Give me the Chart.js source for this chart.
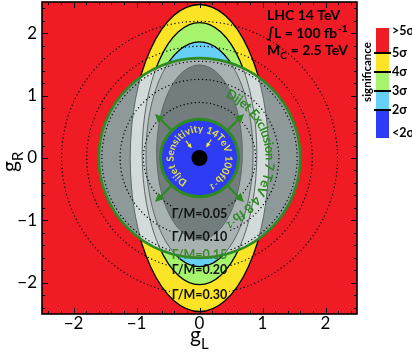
<!DOCTYPE html>
<html>
<head>
<meta charset="utf-8">
<script src="https://cdn.jsdelivr.net/npm/chart.js@4"></script>
<style>
html, body { margin: 0; padding: 0; background: #fff; }
</style>
</head>
<body>
<canvas id="myChart" width="412" height="354"></canvas>
<script>
// axes
const xTicks = [-2, -1, 0, 1, 2];
const yTicks = [-2, -1, 0, 1, 2];
const axisMin = -2.5;
const axisMax = 2.5;

// significance contours (ellipses in gL, gR), outermost first
const sigmaLevels = ['5σ', '4σ', '3σ', '2σ'];
const sigmaSemiL = [1.10, 0.91, 0.85, 0.68];
const sigmaSemiR = [2.46, 2.10, 1.80, 1.40];
const sigmaShiftR = [0, 0.07, 0.06, 0.09];

// colour bar labels, top to bottom
const barLabels = ['>5σ', '5σ', '4σ', '3σ', '2σ', '<2σ'];

// width contours Γ/M (circles)
const widthLabels = ['0.05', '0.10', '0.15', '0.20', '0.30'];
const widthRadius = [0.89, 1.26, 1.55, 1.79, 2.19];

// dijet circles
const exclusionRadius = 1.6;
const sensitivityRadius = 0.62;
const arrowAngles = [45, 135, 225, 315];
const arrowReach = [0.62, 1.0];
const pointerAngles = [128, 58];
const pointerReach = [0.35, 0.2];

// the point (gL, gR) = (0, 0)
const coupling = [{x: 0, y: 0}];

const fillColors = ['#fbe426', '#a6f46c', '#66d0f6', '#2e3cf5'];
const greyColors = ['#d3dada', '#c2caca', '#a9b2b2', '#737d7d'];
const barColors = ['#ef1c26', '#fbe426', '#a6f46c', '#66d0f6', '#2e3cf5'];
const darkGreen = '#2e8a22';

const fmt = v => String(v).replace('-', '\u2212');

function arrow(ctx, x0, y0, x1, y1, head, color, lw) {
    const ang = Math.atan2(y1 - y0, x1 - x0);
    ctx.strokeStyle = color;
    ctx.fillStyle = color;
    ctx.lineWidth = lw;
    ctx.beginPath();
    ctx.moveTo(x0, y0);
    ctx.lineTo(x1 - Math.cos(ang) * head * 0.8, y1 - Math.sin(ang) * head * 0.8);
    ctx.stroke();
    ctx.beginPath();
    ctx.moveTo(x1, y1);
    ctx.lineTo(x1 - head * Math.cos(ang - 0.45), y1 - head * Math.sin(ang - 0.45));
    ctx.lineTo(x1 - head * Math.cos(ang + 0.45), y1 - head * Math.sin(ang + 0.45));
    ctx.closePath();
    ctx.fill();
}

// text along a circle, clockwise, letter tops outward, spread from start to end angle
function arcText(ctx, cx, cy, r, start, end, parts, color) {
    const rs = r + 3;
    let total = 0, count = 0;
    parts.forEach(([txt, font]) => {
        ctx.font = font;
        for (const ch of txt) { total += ctx.measureText(ch).width; count++; }
    });
    const extra = ((end - start) * rs - total) / (count - 1);
    let ang = start;
    ctx.fillStyle = color;
    ctx.textAlign = 'center';
    ctx.textBaseline = 'alphabetic';
    parts.forEach(([txt, font, lift]) => {
        ctx.font = font;
        for (const ch of txt) {
            const w = ctx.measureText(ch).width;
            ang += w / 2 / rs;
            ctx.save();
            ctx.translate(cx + (r + lift) * Math.sin(ang), cy - (r + lift) * Math.cos(ang));
            ctx.rotate(ang);
            ctx.fillText(ch, 0, 0);
            ctx.restore();
            ang += (w / 2 + extra) / rs;
        }
    });
}

const mapPlugin = {
    id: 'maps',
    beforeDatasetsDraw(chart) {
        const {ctx, chartArea: a, scales: {x, y}} = chart;
        const px = v => x.getPixelForValue(v);
        const py = v => y.getPixelForValue(v);
        const rx = v => px(v) - px(0);
        const ry = v => py(0) - py(v);
        const ell = (cy, ax, by) => {
            ctx.beginPath();
            ctx.ellipse(px(0), py(cy), rx(ax), ry(by), 0, 0, Math.PI * 2);
        };
        const deg = d => d * Math.PI / 180;
        ctx.save();
        ctx.beginPath();
        ctx.rect(a.left, a.top, a.width, a.height);
        ctx.clip();
        ctx.fillStyle = barColors[0];
        ctx.fillRect(a.left, a.top, a.width, a.height);

        sigmaLevels.forEach((s, i) => {
            ell(sigmaShiftR[i], sigmaSemiL[i], sigmaSemiR[i]);
            ctx.fillStyle = fillColors[i];
            ctx.fill();
            ctx.lineWidth = 1.3;
            ctx.strokeStyle = '#000';
            ctx.stroke();
        });

        // dijet exclusion region shown in greys
        ctx.save();
        ell(0, exclusionRadius, exclusionRadius);
        ctx.clip();
        ctx.fillStyle = '#8e9999';
        ctx.fillRect(a.left, a.top, a.width, a.height);
        sigmaLevels.forEach((s, i) => {
            ell(sigmaShiftR[i], sigmaSemiL[i], sigmaSemiR[i]);
            ctx.fillStyle = greyColors[i];
            ctx.fill();
            ctx.lineWidth = 1;
            ctx.strokeStyle = '#5d6767';
            ctx.stroke();
        });
        ctx.restore();

        // Γ/M circles, open where the label sits
        ctx.font = 'bold 12.5px Lato';
        widthRadius.forEach((r, i) => {
            const w = ctx.measureText('\u0393/M=' + widthLabels[i]).width;
            const gap = (w / 2 + 2) / rx(r);
            ctx.setLineDash([1.2, 2.6]);
            ctx.lineWidth = 1.2;
            ctx.strokeStyle = '#000';
            ctx.beginPath();
            ctx.ellipse(px(0), py(0), rx(r), ry(r), 0, Math.PI / 2 + gap, Math.PI * 2.5 - gap);
            ctx.stroke();
        });
        ctx.setLineDash([]);

        // exclusion circle border
        ell(0, exclusionRadius, exclusionRadius);
        ctx.lineWidth = 2.6;
        ctx.strokeStyle = darkGreen;
        ctx.stroke();

        // arrows outwards
        arrowAngles.forEach(d => {
            const t = deg(d);
            arrow(ctx,
                px(arrowReach[0] * Math.cos(t)), py(arrowReach[0] * Math.sin(t)),
                px(arrowReach[1] * Math.cos(t)), py(arrowReach[1] * Math.sin(t)),
                10, darkGreen, 2.2);
        });

        // sensitivity disc
        ell(0, sensitivityRadius, sensitivityRadius);
        ctx.fillStyle = '#2e3cf5';
        ctx.fill();
        ctx.lineWidth = 3;
        ctx.strokeStyle = darkGreen;
        ctx.stroke();

        pointerAngles.forEach(d => {
            const t = deg(d);
            arrow(ctx,
                px(pointerReach[0] * Math.cos(t)), py(pointerReach[0] * Math.sin(t)),
                px(pointerReach[1] * Math.cos(t)), py(pointerReach[1] * Math.sin(t)),
                5, '#f2ee3a', 1.2);
        });

        arcText(ctx, px(0), py(0), rx(0.41), deg(-152), deg(160),
            [['Dijet Sensitivity 14TeV 100fb', 'bold 10px Lato', 0], ['-1', 'bold 7.5px Lato', 3]],
            '#e6e43c');
        arcText(ctx, px(0), py(0), rx(1.05), deg(23), deg(158),
            [['Dijet Exclusion 7 TeV 4.8 fb', 'bold 13px Lato', 0], ['-1', 'bold 9.5px Lato', 4]],
            darkGreen);

        // Γ/M labels
        ctx.font = 'bold 12.5px Lato';
        ctx.textAlign = 'center';
        ctx.textBaseline = 'middle';
        widthRadius.forEach((r, i) => {
            ctx.fillStyle = widthLabels[i] === '0.15' ? '#3f8a2a' : '#111';
            ctx.fillText('\u0393/M=' + widthLabels[i], px(0), py(-r));
        });
        ctx.restore();
    },
    afterDraw(chart) {
        const {ctx, chartArea: a, scales: {x, y}} = chart;
        ctx.save();
        // inward ticks on all four sides
        ctx.strokeStyle = '#000';
        ctx.lineWidth = 1;
        for (let k = -24; k <= 24; k += 2) {
            const v = k / 10;
            const major = k % 10 === 0;
            const len = major ? 6 : 3;
            const X = Math.round(x.getPixelForValue(v)) + 0.5;
            const Y = Math.round(y.getPixelForValue(v)) + 0.5;
            ctx.beginPath();
            ctx.moveTo(X, a.bottom); ctx.lineTo(X, a.bottom - len);
            ctx.moveTo(X, a.top); ctx.lineTo(X, a.top + len);
            ctx.moveTo(a.left, Y); ctx.lineTo(a.left + len, Y);
            ctx.moveTo(a.right, Y); ctx.lineTo(a.right - len, Y);
            ctx.stroke();
        }
        ctx.lineWidth = 1.6;
        ctx.strokeRect(a.left, a.top, a.width, a.height);

        // tick labels
        ctx.fillStyle = '#000';
        ctx.font = '17px Lato';
        ctx.textAlign = 'center';
        ctx.textBaseline = 'top';
        xTicks.forEach(v => ctx.fillText(fmt(v), x.getPixelForValue(v), a.bottom + 1));
        ctx.textAlign = 'right';
        ctx.textBaseline = 'middle';
        yTicks.forEach(v => ctx.fillText(fmt(v), a.left - 5, y.getPixelForValue(v)));

        // axis titles
        ctx.textAlign = 'left';
        ctx.textBaseline = 'alphabetic';
        ctx.font = '21px Lato';
        ctx.fillText('g', 190, 342);
        ctx.font = '15px Lato';
        ctx.fillText('L', 201, 349);
        ctx.save();
        ctx.translate(17, 172);
        ctx.rotate(-Math.PI / 2);
        ctx.font = '21px Lato';
        ctx.fillText('g', 0, 0);
        ctx.font = '15px Lato';
        ctx.fillText('R', 11, 6);
        ctx.restore();

        // run information
        ctx.font = 'bold 14px Lato';
        ctx.fillText('LHC 14 TeV', 267, 20);
        ctx.fillText('\u222BL = 100 fb', 267, 38);
        let w = ctx.measureText('\u222BL = 100 fb').width;
        ctx.font = 'bold 10px Lato';
        ctx.fillText('-1', 267 + w + 1, 32);
        ctx.font = 'bold 14px Lato';
        ctx.fillText('M', 267, 55);
        w = ctx.measureText('M').width;
        ctx.font = 'bold 10px Lato';
        ctx.fillText('C', 267 + w, 59);
        ctx.font = 'bold 14px Lato';
        ctx.fillText(' = 2.5 TeV', 267 + w + 7, 55);

        // colour bar
        const edges = [28, 53, 72, 91, 110, 138];
        barColors.forEach((c, i) => {
            ctx.fillStyle = c;
            ctx.fillRect(376, edges[i], 13, edges[i + 1] - edges[i]);
        });
        ctx.strokeStyle = '#000';
        ctx.lineWidth = 2;
        for (let i = 1; i < 5; i++) {
            ctx.beginPath();
            ctx.moveTo(374, edges[i]);
            ctx.lineTo(391, edges[i]);
            ctx.stroke();
        }
        ctx.fillStyle = '#000';
        ctx.font = 'bold 12.5px Lato';
        ctx.textBaseline = 'middle';
        const labelY = [31, 53, 72, 91, 110, 133];
        barLabels.forEach((t, i) => ctx.fillText(t, 392, labelY[i]));
        ctx.save();
        ctx.translate(371, 72);
        ctx.rotate(-Math.PI / 2);
        ctx.textAlign = 'center';
        ctx.textBaseline = 'alphabetic';
        ctx.font = 'bold 11.5px Lato';
        ctx.fillText('significance', 0, 0);
        ctx.restore();
        ctx.restore();
    }
};

const ctx = document.getElementById('myChart');
new Chart(ctx, {
    type: 'scatter',
    data: {
        datasets: [{
            data: coupling,
            pointRadius: 8,
            pointHoverRadius: 8,
            backgroundColor: '#000',
            borderWidth: 0
        }]
    },
    options: {
        responsive: false,
        animation: false,
        devicePixelRatio: 1,
        layout: {
            autoPadding: false,
            padding: {top: 2, right: 55, left: 0, bottom: 0}
        },
        scales: {
            x: {
                type: 'linear',
                min: axisMin,
                max: axisMax,
                afterBuildTicks: s => { s.ticks = xTicks.map(v => ({value: v})); },
                afterFit: s => { s.height = 40; },
                grid: {display: false, drawTicks: false},
                border: {display: false},
                ticks: {display: false}
            },
            y: {
                type: 'linear',
                min: axisMin,
                max: axisMax,
                afterBuildTicks: s => { s.ticks = yTicks.map(v => ({value: v})); },
                afterFit: s => { s.width = 42; },
                grid: {display: false, drawTicks: false},
                border: {display: false},
                ticks: {display: false}
            }
        },
        plugins: {
            legend: {display: false},
            tooltip: {enabled: false}
        }
    },
    plugins: [mapPlugin]
});
</script>
</body>
</html>
